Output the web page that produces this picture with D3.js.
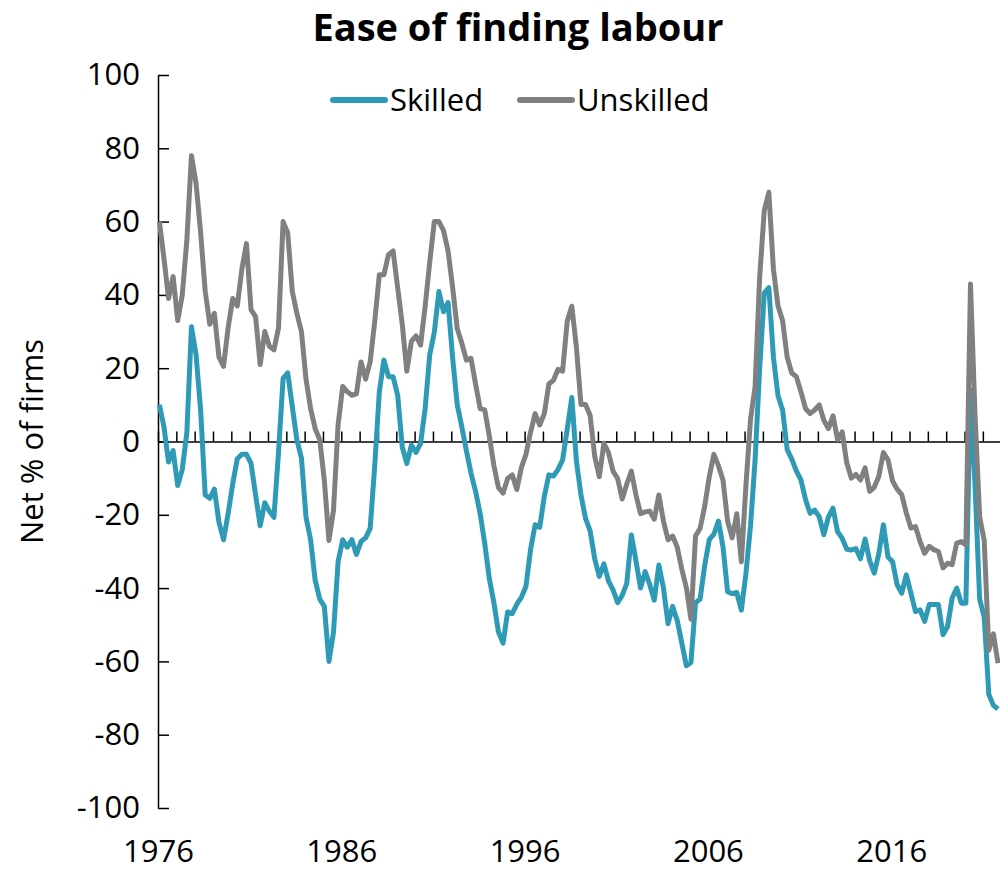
<!DOCTYPE html>
<html>
<head>
<meta charset="utf-8">
<script src="https://cdn.jsdelivr.net/npm/d3@7"></script>
<style>
  body { margin: 0; background: #fff; }
  svg { display: block; font-family: "Open Sans", sans-serif; }
</style>
</head>
<body>
<div id="vis"></div>
<script>
const WIDTH = 1000;
const HEIGHT = 872;
const MARGINS = {left: 158, right: 0, top: 75, bottom: 64};

// quarterly survey data, first point is 1976 Q1
const START_YEAR = 1976;

const skilled = [
  10, 4, -5.6, -2.5, -12, -7.6, 2.5, 31.3, 23.7, 8.6,
  -14.6, -15.5, -13, -22, -26.8, -19.7, -11.6, -4.7, -3.5, -3.5,
  -6, -14.6, -23, -16.7, -19, -20.7, -3, 17.2, 18.7, 9.6,
  0.5, -4.5, -20.7, -26.8, -37.9, -43, -45, -60, -52, -32.8,
  -26.8, -28.8, -26.8, -30.8, -27.3, -26.3, -23.7, -6.6, 13.6, 22.2,
  17.7, 17.7, 12.6, -1.5, -6, -1, -3, -0.5, 9, 23.7,
  29.8, 40.9, 35.4, 37.9, 22.7, 10, 4, -2.5, -8.6, -13.6,
  -19.7, -27.8, -37.4, -44, -52, -55, -46.5, -47, -44.4, -42.5,
  -39.5, -29.5, -22.7, -23.4, -15, -9.1, -9.4, -7.6, -5, 3.4,
  12, -5.3, -14.6, -21, -24.4, -32, -36.8, -33.4, -38, -40.5,
  -44, -42, -38.7, -25.5, -32.5, -40, -35.5, -39, -43.3, -33.7,
  -40, -49.7, -45, -48.8, -55, -61.2, -60.3, -44, -43, -33.8,
  -26.8, -25.3, -21.7, -28.8, -41, -41.5, -41.2, -46, -36, -23,
  -5, 20, 40.5, 42, 23, 12.5, 8.6, -2.2, -4.8, -8,
  -10.5, -15.8, -19.6, -18.7, -20.6, -25.4, -20.6, -18.2, -24.6, -26.4,
  -29.4, -29.6, -29.2, -32, -26.6, -32.5, -35.9, -30.6, -22.7, -31.5,
  -32.8, -39.1, -41.4, -36.4, -41.4, -46.4, -45.9, -49.1, -44.5, -44.5,
  -44.5, -52.7, -50.5, -42.7, -40, -44.1, -44.1, 14, -12, -43,
  -48, -69, -72, -73
];

const unskilled = [
  60, 50, 39, 45, 33, 40, 55, 78, 70.5, 57,
  41, 32, 35, 23, 20.5, 31, 39, 37, 47, 54,
  36, 34, 21, 30, 26, 25, 31, 60, 57, 41,
  35, 30, 17, 9, 3.5, 0.5, -10.6, -27, -18.7, 4.5,
  15, 13.6, 12.6, 13, 21.7, 17, 21.7, 32.8, 45.5, 45.5,
  51, 52, 42, 32, 19.2, 27.3, 28.8, 26.3, 36.9, 49,
  60, 60, 57.6, 52, 42, 30.8, 26.8, 22.2, 22.7, 15.7,
  9, 8.6, 1.5, -6.6, -12.6, -14.1, -10.1, -9.1, -13.1, -7.1,
  -3.5, 2.5, 7.6, 4.5, 7.6, 15.7, 16.7, 19.7, 19.2, 32.8,
  36.9, 25.8, 10.1, 10.1, 7.1, -4, -9.6, -0.5, -3, -8.1,
  -10.1, -15.7, -11.6, -8.1, -14.6, -19.7, -19.2, -19, -21.2, -14.6,
  -21.7, -26.8, -25.8, -28.8, -34.8, -39.9, -48.5, -25.8, -23.7, -17.7,
  -9.6, -3.5, -6.6, -10.6, -21.7, -26.3, -19.7, -32.8, -12, 6,
  15, 45, 63, 68, 47, 37, 33, 23, 18.7, 17.7,
  13.6, 9, 7.6, 8.6, 10, 5.8, 3.5, 7, 0.5, 2.6,
  -5.8, -10, -9, -10.5, -7.2, -13.6, -12.5, -9.5, -3, -5,
  -10.8, -13, -14.5, -19.5, -23.6, -23.2, -27.3, -30.5, -28.6, -29.5,
  -30, -34.5, -33.2, -33.6, -27.7, -27.3, -28.2, 43, 7, -20.5,
  -27, -57, -52.5, -60.5
];

const seriesNames = ["Skilled", "Unskilled"];
const yTicks = [100, 80, 60, 40, 20, 0, -20, -40, -60, -80, -100];
const xLabels = [1976, 1986, 1996, 2006, 2016];

const COLORS = ["#2e9ab5", "#808080"];

const FRAME = d3.select("#vis")
  .append("svg")
    .attr("width", WIDTH)
    .attr("height", HEIGHT);

// 10 years is about 183 px, plot runs to the right edge
const X_SCALE = d3.scaleLinear()
  .domain([START_YEAR, START_YEAR + (WIDTH - MARGINS.left) / 18.33])
  .range([MARGINS.left, WIDTH - MARGINS.right]);

const Y_SCALE = d3.scaleLinear()
  .domain([-100, 100])
  .range([HEIGHT - MARGINS.bottom, MARGINS.top]);

const when = (i) => START_YEAR + (i + 0.3) / 4;

// title
FRAME.append("text")
  .attr("x", 518)
  .attr("y", 41)
  .attr("text-anchor", "middle")
  .attr("font-size", 38)
  .attr("font-weight", "bold")
  .text("Ease of finding labour");

// y axis, ticks point into the plot
const yAxis = FRAME.append("g")
  .attr("transform", `translate(${MARGINS.left},0)`)
  .call(d3.axisLeft(Y_SCALE)
    .tickValues(yTicks)
    .tickSizeInner(-11)
    .tickSizeOuter(0)
    .tickPadding(18)
    .tickFormat((d) => String(d)));
yAxis.selectAll("text").attr("font-size", 31).attr("font-family", "Open Sans").attr("fill", "#000");
yAxis.selectAll("line, path").attr("stroke", "#000").attr("stroke-width", 1.5);

// zero line with yearly ticks
const zeroAxis = FRAME.append("g")
  .attr("transform", `translate(0,${Y_SCALE(0)})`)
  .call(d3.axisTop(X_SCALE)
    .tickValues(d3.range(START_YEAR, 2022))
    .tickSize(10)
    .tickSizeOuter(0)
    .tickFormat(""));
zeroAxis.selectAll("line, path").attr("stroke", "#000").attr("stroke-width", 1.5);

// year labels along the bottom
const xAxis = FRAME.append("g")
  .attr("transform", `translate(0,${HEIGHT - MARGINS.bottom})`)
  .call(d3.axisBottom(X_SCALE)
    .tickValues(xLabels)
    .tickSize(0)
    .tickPadding(32)
    .tickFormat((d) => String(d)));
xAxis.select(".domain").remove();
xAxis.selectAll("text").attr("font-size", 31).attr("font-family", "Open Sans").attr("fill", "#000");

// y axis title
FRAME.append("text")
  .attr("transform", `translate(43,${Y_SCALE(0)}) rotate(-90)`)
  .attr("text-anchor", "middle")
  .attr("font-size", 31)
  .text("Net % of firms");

const line = d3.line()
  .x((d, i) => X_SCALE(when(i)))
  .y((d) => Y_SCALE(d));

[skilled, unskilled].forEach((values, k) => {
  FRAME.append("path")
    .datum(values)
    .attr("fill", "none")
    .attr("stroke", COLORS[k])
    .attr("stroke-width", 5)
    .attr("stroke-linejoin", "round")
    .attr("d", line);
});

// legend
const LEGEND_X = [333, 520];
seriesNames.forEach((name, k) => {
  const g = FRAME.append("g").attr("transform", `translate(${LEGEND_X[k]},100)`);
  g.append("line")
    .attr("x1", 0).attr("x2", 52)
    .attr("stroke", COLORS[k])
    .attr("stroke-width", 6)
    .attr("stroke-linecap", "round");
  g.append("text")
    .attr("x", 57)
    .attr("y", 11)
    .attr("font-size", 31)
    .text(name);
});
</script>
</body>
</html>
